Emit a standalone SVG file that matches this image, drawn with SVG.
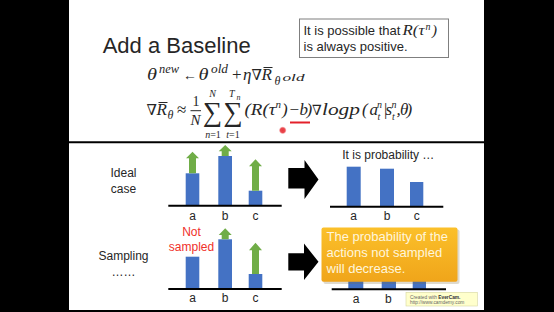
<svg xmlns="http://www.w3.org/2000/svg" width="554" height="312" viewBox="0 0 554 312">
<defs>
<style>
.sans{font-family:"Liberation Sans",Arial,sans-serif;fill:#262626}
.m{font-family:"Liberation Serif","DejaVu Serif",serif;font-style:italic;fill:#262626}
.up{font-family:"Liberation Serif","DejaVu Serif",serif;font-style:normal;fill:#262626}
.bar{fill:#4472C4}
.grn{fill:#70AD47}
.axis{stroke:#000;stroke-width:2}
.lbl{font-family:"Liberation Sans",Arial,sans-serif;font-size:12px;fill:#262626;text-anchor:middle}
.blk{fill:#000}
</style>
<linearGradient id="og" x1="0" y1="0" x2="0" y2="1">
<stop offset="0" stop-color="#FBC02A"/>
<stop offset="1" stop-color="#F0A51A"/>
</linearGradient>
<radialGradient id="dot">
<stop offset="0" stop-color="#E8383F"/>
<stop offset="0.55" stop-color="#EA4A50"/>
<stop offset="0.75" stop-color="#F6A9AC"/>
<stop offset="1" stop-color="#FFFFFF" stop-opacity="0"/>
</radialGradient>
</defs>
<rect x="0" y="0" width="554" height="312" fill="#000"/>
<rect x="69" y="0" width="415" height="310" fill="#fff"/>
<line x1="69" y1="142.3" x2="484" y2="142.3" stroke="#000" stroke-width="2"/>

<g id="title"><text class="sans" x="102.7" y="53" font-size="22">Add a Baseline</text></g>

<g id="note">
<rect x="299.5" y="19" width="149" height="38.5" fill="#fff" stroke="#7f7f7f" stroke-width="1"/>
<text class="sans" x="303.5" y="35" font-size="13">It is possible that</text>
<text class="m" x="402.5" y="35" font-size="15" textLength="22" lengthAdjust="spacingAndGlyphs">R(τ</text>
<text class="m" x="425.5" y="29.5" font-size="10">n</text>
<text class="m" x="432" y="35" font-size="15">)</text>
<text class="sans" x="303.5" y="50.5" font-size="13">is always positive.</text>
</g>

<g id="formula1" font-size="17">
<text class="m" x="147" y="80" textLength="10" lengthAdjust="spacingAndGlyphs">θ</text>
<text class="m" x="159" y="73" font-size="12" textLength="20" lengthAdjust="spacingAndGlyphs">new</text>
<text class="up" x="183" y="80" font-size="14">←</text>
<text class="m" x="198.5" y="80" textLength="10" lengthAdjust="spacingAndGlyphs">θ</text>
<text class="m" x="211" y="73" font-size="12" textLength="17" lengthAdjust="spacingAndGlyphs">old</text>
<text class="up" x="232" y="80">+</text>
<text class="m" x="243" y="80">η</text>
<text class="m" x="251.5" y="80" font-size="15">∇</text>
<text class="m" x="261.5" y="80">R</text>
<line x1="263.5" y1="67.5" x2="272.5" y2="67.5" stroke="#262626" stroke-width="1"/>
<text class="m" x="274.5" y="84.5" font-size="12">θ</text>
<text class="m" x="282.5" y="80.5" font-size="11" textLength="22" lengthAdjust="spacingAndGlyphs">old</text>
</g>

<g id="formula2" font-size="17">
<text class="m" x="146.5" y="115" font-size="15">∇</text>
<text class="m" x="156.5" y="115">R</text>
<line x1="158.5" y1="102.5" x2="167.5" y2="102.5" stroke="#262626" stroke-width="1"/>
<text class="m" x="167.5" y="119" font-size="12">θ</text>
<text class="up" x="177" y="115">≈</text>
<text class="up" x="192.5" y="106" font-size="14">1</text>
<line x1="190.5" y1="110.7" x2="201" y2="110.7" stroke="#262626" stroke-width="1"/>
<text class="m" x="190.5" y="125" font-size="15">N</text>
<text class="up" x="203" y="121" font-size="27">∑</text>
<text class="up" x="223.5" y="121" font-size="27">∑</text>
<text class="m" x="212.5" y="97" font-size="10" text-anchor="middle">N</text>
<text class="m" x="229" y="97" font-size="10">T</text>
<text class="m" x="236.5" y="99.5" font-size="8">n</text>
<text class="m" x="213" y="138" font-size="10" text-anchor="middle">n<tspan class="up">=1</tspan></text>
<text class="m" x="233" y="138" font-size="10" text-anchor="middle">t<tspan class="up">=1</tspan></text>
<text class="m" x="244.5" y="115" textLength="31" lengthAdjust="spacingAndGlyphs">(R(τ</text>
<text class="m" x="275.5" y="108" font-size="11">n</text>
<text class="m" x="282" y="115">)</text>
<text class="up" x="289.5" y="115">−</text>
<text class="m" x="299.5" y="115">b</text>
<text class="m" x="306.5" y="115">)</text>
<text class="m" x="312" y="115" font-size="14">∇</text>
<text class="m" x="322" y="115" textLength="38" lengthAdjust="spacingAndGlyphs">logp</text>
<text class="m" x="362" y="115">(</text>
<text class="m" x="369.5" y="115">a</text>
<text class="m" x="377" y="108" font-size="10">n</text>
<text class="m" x="377.5" y="119.5" font-size="10">t</text>
<text class="m" x="383" y="115">|</text>
<text class="m" x="385.5" y="115">s</text>
<text class="m" x="391.5" y="108" font-size="10">n</text>
<text class="m" x="392" y="119.5" font-size="10">t</text>
<text class="m" x="396.5" y="115">,</text>
<text class="m" x="400" y="115">θ</text>
<text class="m" x="406.5" y="115">)</text>
<line x1="290" y1="122.5" x2="310" y2="122.5" stroke="#E3202A" stroke-width="2"/>
<circle cx="282.7" cy="130.3" r="4.2" fill="url(#dot)"/>
</g>

<g id="ideal-label">
<text class="lbl" x="123.5" y="176.7">Ideal</text>
<text class="lbl" x="123.5" y="192.7">case</text>
</g>

<g id="ideal-chart">
<rect class="bar" x="185.7" y="173.3" width="13.6" height="32.4"/>
<rect class="bar" x="218.3" y="156" width="13.7" height="49.7"/>
<rect class="bar" x="248.7" y="190.7" width="13.6" height="15"/>
<path class="grn" d="M192.5,151.7 L199,158.3 L196,158.3 L196,173.3 L189,173.3 L189,158.3 L186,158.3 Z"/>
<path class="grn" d="M225.2,145 L231.7,151.3 L228.7,151.3 L228.7,156 L221.7,156 L221.7,151.3 L218.7,151.3 Z"/>
<path class="grn" d="M255.5,159.3 L262,166.3 L259,166.3 L259,190.7 L252,190.7 L252,166.3 L249,166.3 Z"/>
<line class="axis" x1="168.3" y1="205.7" x2="281.7" y2="205.7"/>
<text class="lbl" x="192.5" y="219.5">a</text>
<text class="lbl" x="225.2" y="219.5">b</text>
<text class="lbl" x="255.5" y="219.5">c</text>
</g>

<g id="sampling-label">
<text class="lbl" x="123.5" y="260.3">Sampling</text>
<text class="lbl" x="123.5" y="276" font-size="9">……</text>
</g>

<g id="sampling-chart">
<rect class="bar" x="185.7" y="256.7" width="13.6" height="32.3"/>
<rect class="bar" x="218.3" y="239.3" width="13.7" height="49.7"/>
<rect class="bar" x="248.7" y="274" width="13.6" height="15"/>
<path class="grn" d="M225.2,228.3 L231.7,235 L228.7,235 L228.7,239.3 L221.7,239.3 L221.7,235 L218.7,235 Z"/>
<path class="grn" d="M255.5,242.7 L262,250.3 L259,250.3 L259,274 L252,274 L252,250.3 L249,250.3 Z"/>
<line class="axis" x1="168.3" y1="289" x2="281.7" y2="289"/>
<text class="lbl" x="192.5" y="302">a</text>
<text class="lbl" x="225.2" y="302">b</text>
<text class="lbl" x="255.5" y="302">c</text>
<text class="lbl" x="191.5" y="235.7" font-size="13" style="fill:#F0302A">Not</text>
<text class="lbl" x="191.5" y="251" font-size="13" style="fill:#F0302A">sampled</text>
</g>

<g id="prob-chart">
<text class="lbl" x="388.3" y="159">It is probability …</text>
<rect class="bar" x="346.7" y="166.7" width="14" height="40"/>
<rect class="bar" x="380" y="168.7" width="14" height="38"/>
<rect class="bar" x="410" y="182" width="13.3" height="24.7"/>
<line class="axis" x1="330" y1="206.7" x2="443.3" y2="206.7"/>
<text class="lbl" x="353.7" y="220">a</text>
<text class="lbl" x="387" y="220">b</text>
<text class="lbl" x="416.7" y="220">c</text>
</g>

<g id="decrease-chart">
<rect class="bar" x="348.3" y="275" width="15" height="14.3"/>
<rect class="bar" x="381.7" y="275" width="14.3" height="14.3"/>
<rect class="bar" x="412.7" y="275" width="13.3" height="14.3"/>
<line class="axis" x1="331.7" y1="289.3" x2="446" y2="289.3"/>
<text class="lbl" x="356" y="302.7">a</text>
<text class="lbl" x="388.3" y="302.7">b</text>
</g>

<g id="connectors">
<path class="blk" d="M288.3,168 L304.5,168 L304.5,160 L318.5,179.5 L304.5,199 L304.5,188.5 L288.3,188.5 Z"/>
<path class="blk" d="M288.3,253.3 L304,253.3 L304,243.5 L318.5,261.8 L304,280 L304,270.5 L288.3,270.5 Z"/>
</g>

<g id="callout">
<rect x="323.5" y="229.5" width="136" height="54.5" rx="2" fill="#7a6a40" opacity="0.25"/>
<rect x="321.5" y="227.5" width="136" height="54.2" rx="2" fill="url(#og)"/>
<text class="sans" x="326.5" y="240.7" font-size="13" style="fill:#FFF6DC">The probability of the</text>
<text class="sans" x="326.5" y="256.7" font-size="13" style="fill:#FFF6DC">actions not sampled</text>
<text class="sans" x="326.5" y="273.3" font-size="13" style="fill:#FFF6DC">will decrease.</text>
</g>

<g id="watermark">
<rect x="406" y="292.3" width="71.3" height="13.7" fill="#FFFFCC" stroke="#D6D6A0" stroke-width="0.6"/>
<text class="sans" x="410" y="298.5" font-size="4.8" style="fill:#666">Created with <tspan font-weight="bold" style="fill:#333">EverCam.</tspan></text>
<text class="sans" x="410" y="304.3" font-size="4.8" style="fill:#666">http://www.camdemy.com</text>
</g>
</svg>
